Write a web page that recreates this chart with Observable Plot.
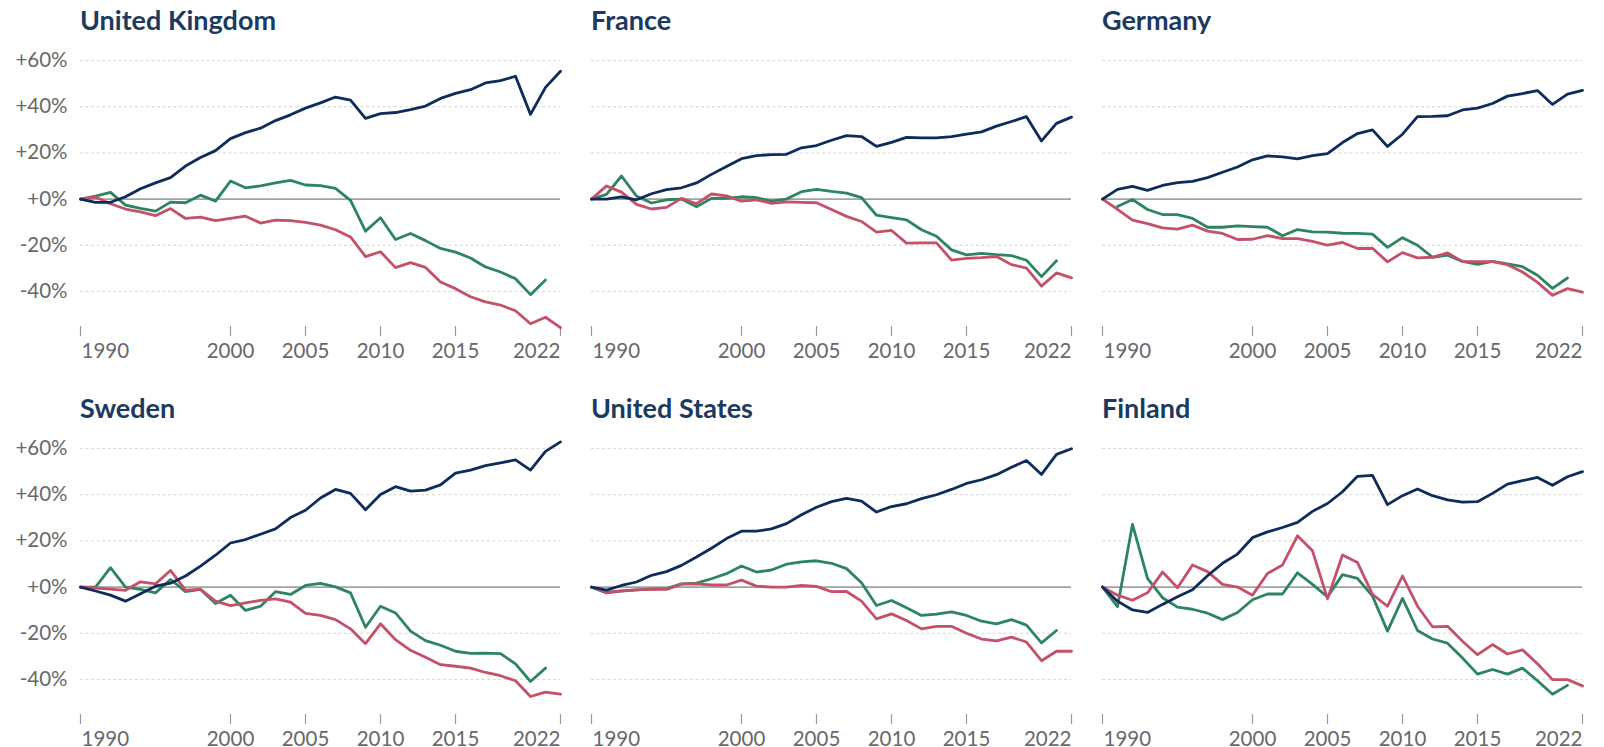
<!DOCTYPE html>
<html>
<head>
<meta charset="utf-8">
<script src="https://cdn.jsdelivr.net/npm/d3@7"></script>
<script src="https://cdn.jsdelivr.net/npm/@observablehq/plot@0.6"></script>
<style>
  html, body { margin: 0; padding: 0; background: #fff; }
  #chart { position: relative; width: 1604px; height: 747px; font-family: Lato, "Open Sans", sans-serif; }
  .title { position: absolute; font-family: Lato, sans-serif; font-weight: 700; font-size: 27px; line-height: 27px; color: #1b3a5f; white-space: nowrap; }
  .panel { position: absolute; }
  .panel svg { background: transparent; overflow: visible; }
</style>
</head>
<body>
<div id="chart"></div>
<script>
// ---- Data (percentage change relative to 1990) ----
const years = d3.range(1990, 2023);
const countries = ["United Kingdom", "France", "Germany", "Sweden", "United States", "Finland"];
const seriesNames = ["GDP per capita", "Production-based CO2", "Consumption-based CO2"];
const yTicks = [-40, -20, 0, 20, 40, 60];
const xTicks = [1990, 2000, 2005, 2010, 2015, 2022];

const ukGdp  = [0,-1.4,-1.4,1,4.5,7,9.3,14.3,18,21,26.2,28.8,30.7,34,36.5,39.4,41.7,44.2,42.9,35,37,37.5,38.8,40.3,43.6,45.8,47.4,50.3,51.3,53.2,36.7,48.4,55.4];
const ukProd = [0,0.9,-2,-4.3,-5.5,-7.2,-4.1,-8.4,-7.8,-9.3,-8.4,-7.4,-10.4,-9.1,-9.3,-10.1,-11.3,-13.3,-16.4,-24.9,-22.8,-29.7,-27.5,-29.6,-35.9,-38.8,-42.3,-44.5,-45.9,-48.4,-54,-51.2,-55.7];
const ukCons = [0,1.3,2.9,-2.6,-4,-5.2,-1.3,-1.6,1.7,-0.9,7.8,4.9,5.7,7,8.1,6.1,5.8,4.6,-0.6,-13.9,-8.1,-17.5,-14.9,-18,-21.4,-23,-25.5,-29.4,-31.6,-34.5,-41.4,-35.1];

const frGdp  = [0,0,1,-0.3,2.3,4.1,4.9,7,10.7,14.1,17.5,18.8,19.3,19.4,22.2,23.2,25.5,27.5,27.1,22.8,24.6,26.7,26.5,26.5,27.1,28.1,29.1,31.6,33.6,35.7,25.2,32.8,35.5];
const frProd = [0,5.7,3,-2.3,-4.3,-3.6,0.3,-2,2.2,1.4,-0.9,-0.3,-1.9,-1.2,-1.4,-1.6,-4.5,-7.5,-9.7,-14.3,-13.6,-19.1,-19,-19,-26.4,-25.7,-25.4,-24.9,-28.4,-29.9,-37.7,-32,-34.1];
const frCons = [0,2,10,1.3,-1.7,-0.3,0,-3.3,0.3,0.3,1,0.6,-0.9,0,3.2,4.2,3.3,2.6,0.6,-7,-8,-9,-13.3,-16.1,-22,-24.2,-23.5,-24.1,-24.5,-26.5,-33.6,-26.7];

const deGdp  = [0,4.2,5.5,3.8,5.9,7.1,7.7,9.3,11.6,13.9,17,18.7,18.3,17.4,18.8,19.7,24.5,28.4,30,22.8,28.1,35.7,35.8,36.1,38.6,39.4,41.4,44.6,45.7,47,41,45.5,47.1];
const deProd = [0,-4.5,-9.1,-10.6,-12.5,-13,-11.3,-13.9,-14.9,-17.5,-17.4,-15.8,-17.1,-17.1,-18.3,-20,-18.8,-21.4,-21.3,-27.2,-23.2,-25.5,-25.2,-23.3,-27.1,-27.1,-27.1,-28.4,-31.6,-36.1,-41.7,-38.8,-40.3];
const deCons = [null,-3.2,-0.2,-4.5,-6.7,-6.7,-8.4,-12.2,-12.2,-11.6,-11.9,-12.2,-15.9,-13.2,-14.2,-14.3,-14.8,-14.9,-15.2,-20.9,-16.7,-20,-25.2,-24.3,-27,-28.3,-27,-28.1,-29.3,-33,-38.7,-34.2];

const seGdp  = [0,-1.7,-3.5,-6.1,-2.9,0.4,1.7,4.8,9.1,13.8,19.1,20.6,22.9,25.2,30.1,33.3,38.6,42.3,40.6,33.5,40.1,43.5,41.6,42,44.3,49.4,50.7,52.6,53.8,55.1,50.7,58.8,62.9];
const seProd = [0,-0.4,-0.9,-1.4,2.3,1.4,7.2,-1.3,-1,-6.1,-8,-6.8,-5.8,-5.1,-6.5,-11.4,-12.3,-14.1,-18.1,-24.5,-15.9,-22.8,-27.4,-30.4,-33.6,-34.3,-35.1,-37,-38.4,-40.6,-47.4,-45.5,-46.4];
const seCons = [0,0,8.4,0,-1,-2.5,3.3,-2,-1,-7.1,-3.5,-10.1,-8.3,-2,-3.2,0.7,1.6,0.1,-2.5,-17.4,-8.3,-11.2,-19.1,-23.2,-25.2,-27.8,-28.7,-28.6,-28.8,-33.3,-40.9,-35.1];

const usGdp  = [0,-1.3,0.7,2.2,5.1,6.7,9.4,13,16.8,21,24.2,24.2,25.2,27.5,31.3,34.6,37,38.4,37.2,32.5,34.9,36.1,38.3,40,42.3,44.9,46.5,48.7,51.9,54.8,48.8,57.5,59.9];
const usProd = [0,-2.2,-1.6,-1.2,-0.9,-1,1.3,1.4,0.9,0.9,3,0.4,0,0,0.7,0.3,-2,-1.9,-6.1,-13.8,-11.6,-14.5,-18.1,-17,-17,-20,-22.5,-23.3,-21.7,-23.8,-31.9,-27.8,-27.8];
const usCons = [0,-2.5,-1.7,-1.2,-0.9,-0.7,1.4,1.7,3.6,5.8,9.1,6.5,7.4,9.9,10.9,11.4,10.3,8,1.9,-8,-5.8,-9,-12.3,-11.7,-10.7,-12.3,-14.8,-15.9,-14.1,-16.5,-24.2,-18.8];

const fiGdp  = [0,-6.1,-9.9,-11,-7.5,-4.2,-1.2,4.9,10.3,14.3,21.4,23.9,25.8,28,32.8,36.2,41.3,48,48.4,35.7,39.6,42.5,39.6,37.8,36.8,37,40.6,44.6,46.1,47.5,44.1,47.8,50];
const fiProd = [0,-3.5,-5.7,-2.5,6.5,-0.3,9.6,6.7,1.2,0,-3.5,5.9,9.6,22.2,15.7,-5.1,13.9,10.6,-3.2,-8.3,4.8,-8.3,-17.2,-17,-23.5,-29.3,-24.9,-29,-27.2,-33.2,-40.1,-40.1,-42.8];
const fiCons = [0,-8.5,27.2,3.8,-4.6,-8.7,-9.6,-11.3,-14.1,-11,-5.5,-3,-3,6.2,1.2,-4.3,5.4,3.8,-3.9,-19.1,-4.9,-18.8,-22.5,-24.3,-30.7,-37.7,-35.7,-37.7,-35.1,-40.6,-46.4,-42.6];

const panelSeries = [
  [ukGdp, ukProd, ukCons],
  [frGdp, frProd, frCons],
  [deGdp, deProd, deCons],
  [seGdp, seProd, seCons],
  [usGdp, usProd, usCons],
  [fiGdp, fiProd, fiCons]
];
const colors = ["#0f2b5b", "#c4506a", "#2d8462"];

// ---- Layout ----
const frameLefts = [80, 591, 1102];
const frameW = 480;
const frameTops = [51.5, 439.5];
const frameH = 274;
const mTop = 10, mBottom = 45, mRight = 14;
const titleTops = [6, 394];

const chart = document.getElementById("chart");
const fmtPct = d => (d >= 0 ? "+" : "") + d + "%";
const fmtYear = d => String(d);

countries.forEach((name, k) => {
  const col = k % 3, row = Math.floor(k / 3);
  const mLeft = col === 0 ? 80 : 10;

  const title = document.createElement("div");
  title.className = "title";
  title.textContent = name;
  title.style.left = frameLefts[col] + "px";
  title.style.top = titleTops[row] + "px";
  chart.appendChild(title);

  const rows = panelSeries[k].map((arr, s) =>
    years.map((year, i) => ({year, value: arr[i] === undefined ? null : arr[i], series: seriesNames[s]}))
         .filter(d => d.value !== null)
  );

  const labelOpts = {x: d => d, text: fmtYear, frameAnchor: "bottom", lineAnchor: "top", dy: 17, fontSize: 20.5, fill: "#686868"};
  const marks = [
    Plot.ruleY(yTicks.filter(d => d !== 0), {stroke: "#d6d6d6", strokeDasharray: "3,2.5", strokeWidth: 1}),
    Plot.ruleY([0], {stroke: "#a2a2a2", strokeWidth: 1.6}),
    Plot.axisX({ticks: xTicks, tickSize: 10, tickFormat: () => "", stroke: "#9a9a9a", strokeWidth: 1.2, label: null}),
    Plot.text([xTicks[0]], {...labelOpts, dx: 1, textAnchor: "start"}),
    Plot.text(xTicks.slice(1, -1), {...labelOpts, textAnchor: "middle"}),
    Plot.text([xTicks[xTicks.length - 1]], {...labelOpts, textAnchor: "end"}),
    Plot.line(rows[2], {x: "year", y: "value", stroke: colors[2], strokeWidth: 2.8}),
    Plot.line(rows[1], {x: "year", y: "value", stroke: colors[1], strokeWidth: 2.8}),
    Plot.line(rows[0], {x: "year", y: "value", stroke: colors[0], strokeWidth: 2.8})
  ];
  if (col === 0) {
    marks.push(Plot.axisY({ticks: yTicks, tickSize: 0, tickPadding: 13, tickFormat: fmtPct, fontSize: 20.5, fill: "#686868", label: null}));
  } else {
    marks.push(Plot.axisY({ticks: [], label: null}));
  }

  const svg = Plot.plot({
    width: mLeft + frameW + mRight,
    height: mTop + frameH + mBottom,
    marginLeft: mLeft,
    marginRight: mRight,
    marginTop: mTop,
    marginBottom: mBottom,
    style: {fontFamily: "Lato, sans-serif", fontSize: "20px", background: "transparent", overflow: "visible"},
    x: {domain: [1990, 2022]},
    y: {domain: [-55.2, 63.5]},
    marks
  });

  const wrap = document.createElement("div");
  wrap.className = "panel";
  wrap.style.left = (frameLefts[col] - mLeft) + "px";
  wrap.style.top = (frameTops[row] - mTop) + "px";
  wrap.appendChild(svg);
  chart.appendChild(wrap);
});
</script>
</body>
</html>
